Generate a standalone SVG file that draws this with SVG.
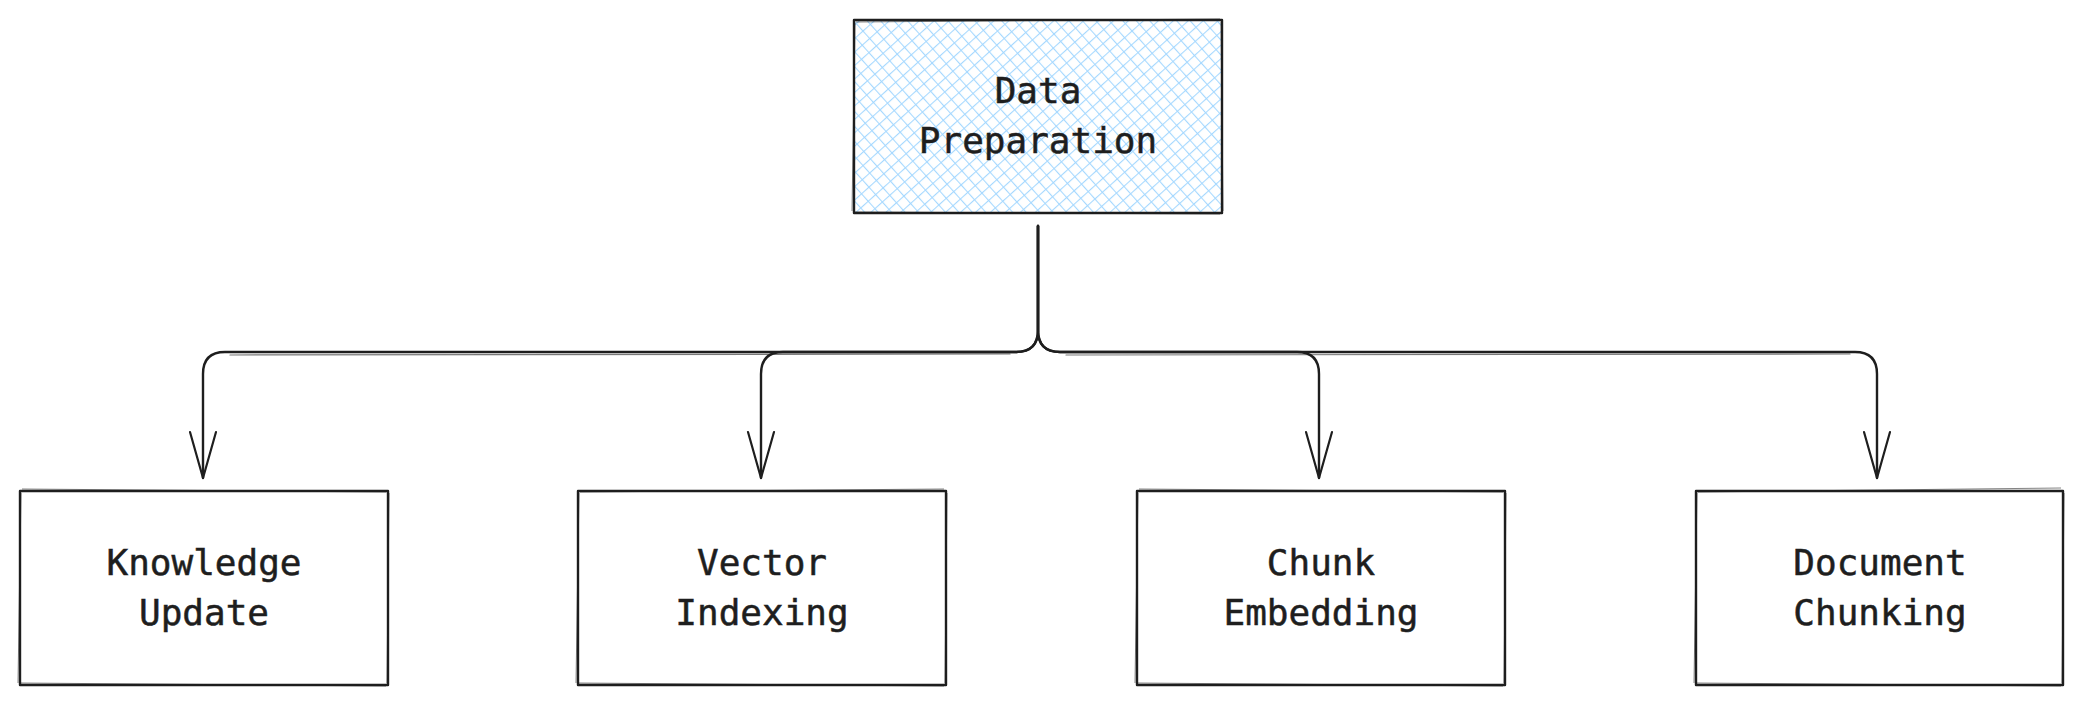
<svg xmlns="http://www.w3.org/2000/svg" width="2083" height="704" viewBox="0 0 2083 704">
  <style>
    .box { fill: #ffffff; stroke: #1e1e1e; stroke-width: 2.4; stroke-linejoin: round; }
    .sk { fill: none; stroke: #1e1e1e; stroke-width: 1; opacity: 0.55; }
    .lbl { font-family: "DejaVu Sans Mono", "Liberation Mono", monospace; font-size: 36px; fill: #1e1e1e; stroke: #1e1e1e; stroke-width: 0.5; text-anchor: middle; }
    .conn { fill: none; stroke: #1e1e1e; stroke-width: 2.4; stroke-linecap: round; stroke-linejoin: round; }
    .conn2 { fill: none; stroke: #1e1e1e; stroke-width: 1.2; opacity: 0.6; stroke-linecap: round; }
    .head { fill: none; stroke: #1e1e1e; stroke-width: 2.2; stroke-linecap: round; stroke-linejoin: round; }
  </style>
  <defs>
    <pattern id="hatch" patternUnits="userSpaceOnUse" width="10" height="10" patternTransform="rotate(-42)">
      <line x1="0" y1="0" x2="0" y2="10" stroke="#a5d8ff" stroke-width="2.2"/>
      <line x1="0" y1="0" x2="10" y2="0" stroke="#a5d8ff" stroke-width="2.2"/>
    </pattern>
    <marker id="arrow" markerUnits="userSpaceOnUse" markerWidth="60" markerHeight="40" refX="0" refY="0" orient="auto" viewBox="-50 -20 60 40" overflow="visible">
      <path class="head" d="M-46,-13 L0,0 L-46,13"/>
    </marker>
  </defs>
  <rect width="2083" height="704" fill="#ffffff"/>

  <g id="connectors">
    <path class="conn" marker-end="url(#arrow)" d="M1038,226 L1038,330 Q1038,352 1016,352 L225,352 Q203,352 203,374 L203,478"/>
    <path class="conn" marker-end="url(#arrow)" d="M1038,226 L1038,330 Q1038,352 1016,352 L783,352 Q761,352 761,374 L761,478"/>
    <path class="conn" marker-end="url(#arrow)" d="M1038,226 L1038,330 Q1038,352 1060,352 L1297,352 Q1319,352 1319,374 L1319,478"/>
    <path class="conn" marker-end="url(#arrow)" d="M1038,226 L1038,330 Q1038,352 1060,352 L1855,352 Q1877,352 1877,374 L1877,478"/>
    <path class="conn2" d="M230,355 L1010,354"/>
    <path class="conn2" d="M1066,355 L1850,354"/>
  </g>

  <g id="node-data-preparation">
    <rect x="854" y="20" width="368" height="193" fill="url(#hatch)"/>
    <rect class="box" x="854" y="20" width="368" height="193" style="fill:none"/>
    <path class="sk" d="M856,22 L1220,19 M1221,22 L1223,211 M1220,214 L855,212 M852,211 L855,23"/>
    <text class="lbl" x="1038" y="103">Data</text>
    <text class="lbl" x="1038" y="153">Preparation</text>
  </g>

  <g id="node-knowledge-update">
    <rect class="box" x="20" y="491" width="368" height="194"/>
    <path class="sk" d="M22,489 L386,492 M389,493 L387,683 M386,686 L21,683 M18,683 L21,493"/>
    <text class="lbl" x="204" y="575">Knowledge</text>
    <text class="lbl" x="204" y="625">Update</text>
  </g>

  <g id="node-vector-indexing">
    <rect class="box" x="578" y="491" width="368" height="194"/>
    <path class="sk" d="M580,492 L944,489 M947,493 L945,683 M944,686 L579,683 M576,683 L579,493"/>
    <text class="lbl" x="762" y="575">Vector</text>
    <text class="lbl" x="762" y="625">Indexing</text>
  </g>

  <g id="node-chunk-embedding">
    <rect class="box" x="1137" y="491" width="368" height="194"/>
    <path class="sk" d="M1139,489 L1503,492 M1506,493 L1504,683 M1503,686 L1138,683 M1135,683 L1138,493"/>
    <text class="lbl" x="1321" y="575">Chunk</text>
    <text class="lbl" x="1321" y="625">Embedding</text>
  </g>

  <g id="node-document-chunking">
    <rect class="box" x="1696" y="491" width="367" height="194"/>
    <path class="sk" d="M1698,492 L2061,488 M2064,493 L2062,683 M2061,686 L1697,683 M1694,683 L1697,493"/>
    <text class="lbl" x="1880" y="575">Document</text>
    <text class="lbl" x="1880" y="625">Chunking</text>
  </g>
</svg>
